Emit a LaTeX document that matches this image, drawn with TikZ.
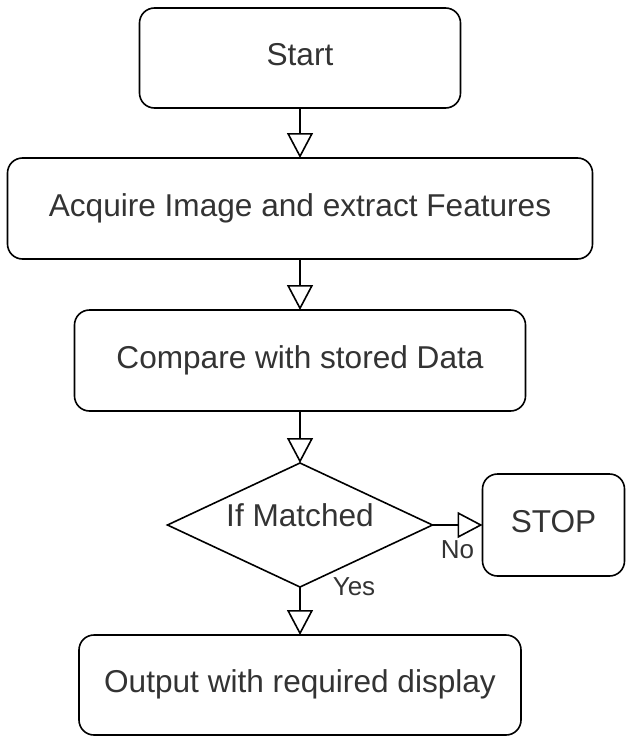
\documentclass[tikz,border=0pt]{standalone}
\usepackage{fontspec}
\setmainfont{Liberation Sans}
\usepackage{xcolor}
\usepackage{tikz}
\usetikzlibrary{positioning}
\usetikzlibrary{shapes}
\usetikzlibrary{arrows.meta}
\definecolor{txtgray}{HTML}{333333}

\begin{document}
\begin{tikzpicture}[x=1pt, y=1pt, node distance=50pt,
  box/.style={draw, line width=1.6pt, rounded corners=15pt, text=txtgray,
    font=\fontsize{31.6}{38}\selectfont, text height=23.7pt, text depth=7.9pt,
    inner sep=0pt, outer sep=0pt},
  decide/.style={diamond, draw, line width=1.6pt, aspect=2.14, text=txtgray,
    font=\fontsize{31.6}{38}\selectfont, text height=23.7pt, text depth=20pt,
    inner sep=0pt, outer sep=0pt, minimum width=265pt, minimum height=124pt},
  lbl/.style={text=txtgray, font=\fontsize{26}{31}\selectfont, inner sep=0pt},
  flow/.style={line width=1.6pt, -{Triangle[open, length=25pt, width=26pt]}}]
\useasboundingbox (0,0) rectangle (629,-736);

\node[box, minimum width=321pt, minimum height=100pt] (start) at (300,-58) {Start};
\node[box, below=of start, minimum width=585pt, minimum height=101pt] (acquire) {Acquire Image and extract Features};
\node[box, below=51pt of acquire, minimum width=451pt, minimum height=101pt] (compare) {Compare with stored Data};
%%%%%%%%%%%%%%
\node[decide, below=52pt of compare] (match) {If Matched};
\node[box, right=of match, minimum width=142pt, minimum height=102pt] (stop) {STOP};
%%%%%%%%%%%%%%
\node[box, below=48pt of match, minimum width=442pt, minimum height=100pt] (output) {Output with required display};

\draw[flow] (start) -- (acquire);
\draw[flow] (acquire) -- (compare);
\draw[flow] (compare) -- (match);
\draw[flow] (match) -- node[lbl, below=15pt] {No} (stop);
\draw[flow] (match) -- node[lbl, pos=0, anchor=north west, xshift=32pt, yshift=10pt] {Yes} (output);

\end{tikzpicture}
\end{document}
